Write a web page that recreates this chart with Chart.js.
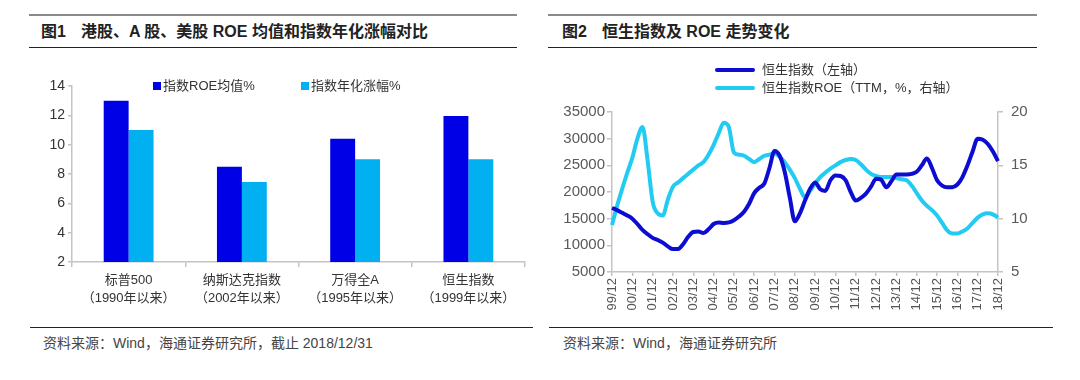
<!DOCTYPE html>
<html>
<head>
<meta charset="utf-8">
<script src="https://cdn.jsdelivr.net/npm/chart.js@4/dist/chart.umd.min.js"></script>
<style>
  html, body { margin:0; padding:0; background:#fff; }
  body { width:1080px; height:380px; position:relative; overflow:hidden;
         font-family:'Liberation Sans', Arial, 'Noto Sans CJK SC', sans-serif; }
  .abs { position:absolute; }
  .rule-top { height:2px; background:#8a8a8a; }
  .rule { height:1px; background:#222; }
  .title { font-size:16px; font-weight:bold; color:#222; white-space:nowrap; line-height:20px; }
  .title .num { margin-right:15px; }
  .foot { font-size:14px; color:#444; white-space:nowrap; line-height:18px; }
  .leg { font-size:13px; color:#333; white-space:nowrap; line-height:16px; }
  canvas { position:absolute; }
</style>
</head>
<body>
<!-- left panel frame -->
<div class="abs rule-top" style="left:29px; top:14px; width:488px;"></div>
<div class="abs title" style="left:41px; top:22px;"><span class="num">图1</span>港股、A 股、美股 ROE 均值和指数年化涨幅对比</div>
<div class="abs rule" style="left:29px; top:47px; width:488px;"></div>
<div class="abs rule" style="left:30px; top:327px; width:503px;"></div>
<div class="abs foot" style="left:43px; top:334px;">资料来源：Wind，海通证券研究所，截止 2018/12/31</div>

<!-- right panel frame -->
<div class="abs rule-top" style="left:548px; top:14px; width:489px;"></div>
<div class="abs title" style="left:562px; top:22px;"><span class="num">图2</span>恒生指数及 ROE 走势变化</div>
<div class="abs rule" style="left:548px; top:47px; width:489px;"></div>
<div class="abs rule" style="left:549px; top:327px; width:504px;"></div>
<div class="abs foot" style="left:563px; top:334px;">资料来源：Wind，海通证券研究所</div>

<canvas id="c1" width="515" height="260" style="left:20px; top:60px; width:515px; height:260px;"></canvas>
<canvas id="c2" width="495" height="225" style="left:545px; top:95px; width:495px; height:225px;"></canvas>

<!-- legends -->
<div id="leg1a-sw" class="abs" style="left:153px; top:82px; width:8px; height:8px;"></div>
<div id="leg1a" class="abs leg" style="left:163px; top:78px;"></div>
<div id="leg1b-sw" class="abs" style="left:301px; top:82px; width:8px; height:8px;"></div>
<div id="leg1b" class="abs leg" style="left:311px; top:78px;"></div>

<div id="leg2a-sw" class="abs" style="left:715px; top:68px; width:40px; height:4px; border-radius:2px;"></div>
<div id="leg2a" class="abs leg" style="left:762px; top:62px;"></div>
<div id="leg2b-sw" class="abs" style="left:715px; top:86px; width:40px; height:4px; border-radius:2px;"></div>
<div id="leg2b" class="abs leg" style="left:762px; top:80px;"></div>

<script>
// ---------- Figure 1 data ----------
const barCategories = [
  ['标普500', '（1990年以来）'],
  ['纳斯达克指数', '（2002年以来）'],
  ['万得全A', '（1995年以来）'],
  ['恒生指数', '（1999年以来）']
];
const barSeriesNames = ['指数ROE均值%', '指数年化涨幅%'];
const roeMean = [13.0, 8.5, 10.4, 11.95];
const annualGain = [11.0, 7.45, 9.0, 9.0];
const barAxisTicks = [2, 4, 6, 8, 10, 12, 14];

// ---------- Figure 2 data ----------
const lineSeriesNames = ['恒生指数（左轴）', '恒生指数ROE（TTM，%，右轴）'];
const lineDates = [
  '99/12',
  '00/03','00/06','00/09','00/12',
  '01/03','01/06','01/09','01/12',
  '02/03','02/06','02/09','02/12',
  '03/03','03/06','03/09','03/12',
  '04/03','04/06','04/09','04/12',
  '05/03','05/06','05/09','05/12',
  '06/03','06/06','06/09','06/12',
  '07/03','07/06','07/09','07/12',
  '08/03','08/06','08/09','08/12',
  '09/03','09/06','09/09','09/12',
  '10/03','10/06','10/09','10/12',
  '11/03','11/06','11/09','11/12',
  '12/03','12/06','12/09','12/12',
  '13/03','13/06','13/09','13/12',
  '14/03','14/06','14/09','14/12',
  '15/03','15/06','15/09','15/12',
  '16/03','16/06','16/09','16/12',
  '17/03','17/06','17/09','17/12',
  '18/03','18/06','18/09','18/12'
];
const hsiIndex = [
  17000,
  16600, 16100, 15600, 15000,
  14000, 12900, 12100, 11400,
  11000, 10500, 9800, 9300,
  9300, 10200, 11600, 12500,
  12600, 12300, 13000, 14000,
  14300, 14200, 14300, 14700,
  15400, 16300, 17800, 19800,
  20800, 21600, 24500, 27700,
  26800, 23800, 19000, 14500,
  16000, 18400, 20600, 21800,
  20500, 20200, 22200, 23100,
  23000, 22200, 20000, 18400,
  18900, 19700, 21000, 22500,
  22300, 20900, 22000, 23300,
  23300, 23300, 23400, 23800,
  25000, 26300, 24500, 22200,
  21200, 20900, 20900, 21400,
  22800, 25000, 27600, 30000,
  29800, 29000, 27600, 25800
];
const hsiRoe = [
  9.4,
  11.2, 12.8, 14.3, 15.7,
  17.5, 18.6, 15.5, 11.6,
  10.5, 10.3, 11.8, 13.0,
  13.4, 13.8, 14.2, 14.6,
  15.0, 15.3, 16.0, 16.9,
  18.0, 19.0, 18.6, 16.2,
  16.0, 15.9, 15.6, 15.3,
  15.6, 15.9, 16.0, 16.1,
  15.8, 15.3, 14.6, 13.8,
  12.8, 12.0, 12.6, 13.3,
  13.9, 14.3, 14.7, 15.0,
  15.3, 15.5, 15.6, 15.5,
  15.1, 14.6, 14.2, 14.0,
  13.9, 13.9, 13.9, 13.8,
  13.7, 13.6, 13.1, 12.4,
  11.7, 11.2, 10.8, 10.3,
  9.6, 8.9, 8.6, 8.6,
  8.8, 9.1, 9.6, 10.1,
  10.4, 10.5, 10.4, 10.1
];
const hsiLeftTicks = [5000, 10000, 15000, 20000, 25000, 30000, 35000];
const hsiRightTicks = [5, 10, 15, 20];

// ---------- styles ----------
const DARK_BAR = '#0000E6';
const LIGHT_BAR = '#00B0F0';
const DARK_LINE = '#0C0CD2';
const LIGHT_LINE = '#22CBF2';
const AXIS = '#c4c4c4';
const FONT = "'Liberation Sans', Arial, 'Noto Sans CJK SC', sans-serif";

// legends (real text)
document.getElementById('leg1a').textContent = barSeriesNames[0];
document.getElementById('leg1b').textContent = barSeriesNames[1];
document.getElementById('leg1a-sw').style.background = DARK_BAR;
document.getElementById('leg1b-sw').style.background = LIGHT_BAR;
document.getElementById('leg2a').textContent = lineSeriesNames[0];
document.getElementById('leg2b').textContent = lineSeriesNames[1];
document.getElementById('leg2a-sw').style.background = DARK_LINE;
document.getElementById('leg2b-sw').style.background = LIGHT_LINE;

const plain = v => String(v);

// ---------- Figure 1 ----------
new Chart(document.getElementById('c1'), {
  type: 'bar',
  data: {
    labels: barCategories,
    datasets: [
      { label: barSeriesNames[0], data: roeMean, backgroundColor: DARK_BAR,
        categoryPercentage: 0.44, barPercentage: 1.0 },
      { label: barSeriesNames[1], data: annualGain, backgroundColor: LIGHT_BAR,
        categoryPercentage: 0.44, barPercentage: 1.0 }
    ]
  },
  options: {
    responsive: false, animation: false, devicePixelRatio: 1,
    layout: { padding: { top: 26, right: 10, left: 0, bottom: 0 } },
    plugins: { legend: { display: false }, tooltip: { enabled: false } },
    scales: {
      x: {
        grid: { display: true, drawOnChartArea: false, tickLength: 5, color: AXIS, lineWidth: 1.5, offset: true },
        border: { color: AXIS, width: 1.5 },
        ticks: { color: '#333', font: { size: 13, family: FONT, lineHeight: 1.4 }, padding: 4,
                 autoSkip: false, maxRotation: 0, minRotation: 0 },
        afterFit(s) { s.height = 58; }
      },
      y: {
        min: 2, max: 14,
        grid: { display: true, drawOnChartArea: false, tickLength: 4, color: AXIS, lineWidth: 1.5 },
        border: { color: AXIS, width: 1.5 },
        ticks: { color: '#333', font: { size: 14, family: FONT }, padding: 3, callback: plain },
        afterBuildTicks(s) { s.ticks = barAxisTicks.map(v => ({ value: v })); },
        afterFit(s) { s.width = 52; }
      }
    }
  }
});

// ---------- Figure 2 ----------
new Chart(document.getElementById('c2'), {
  type: 'line',
  data: {
    labels: lineDates,
    datasets: [
      { label: lineSeriesNames[0], data: hsiIndex, yAxisID: 'y', borderColor: DARK_LINE,
        borderWidth: 4, pointRadius: 0, cubicInterpolationMode: 'monotone', order: 0 },
      { label: lineSeriesNames[1], data: hsiRoe, yAxisID: 'y1', borderColor: LIGHT_LINE,
        borderWidth: 4, pointRadius: 0, cubicInterpolationMode: 'monotone', order: 1 }
    ]
  },
  options: {
    responsive: false, animation: false, devicePixelRatio: 1,
    layout: { padding: { top: 13, right: 0, left: 0, bottom: 0 } },
    plugins: { legend: { display: false }, tooltip: { enabled: false } },
    scales: {
      x: {
        grid: { display: true, drawOnChartArea: false, tickLength: 4, color: AXIS, lineWidth: 1.5 },
        border: { color: AXIS, width: 1.5 },
        ticks: {
          color: '#555', font: { size: 13, family: FONT }, padding: 2,
          autoSkip: false, maxRotation: 90, minRotation: 90,
          callback(v, i) { const l = lineDates[i]; return l.endsWith('/12') ? l : null; }
        },
        afterFit(s) { s.height = 48; }
      },
      y: {
        position: 'left', min: 5000, max: 35000,
        grid: { display: true, drawOnChartArea: false, tickLength: 5, color: AXIS, lineWidth: 1.5 },
        border: { color: AXIS, width: 1.5 },
        ticks: { color: '#595959', font: { size: 15, family: FONT }, padding: 2, callback: plain },
        afterBuildTicks(s) { s.ticks = hsiLeftTicks.map(v => ({ value: v })); },
        afterFit(s) { s.width = 67; }
      },
      y1: {
        position: 'right', min: 5, max: 20,
        grid: { display: true, drawOnChartArea: false, tickLength: 5, color: AXIS, lineWidth: 1.5 },
        border: { color: AXIS, width: 1.5 },
        ticks: { color: '#595959', font: { size: 15, family: FONT }, padding: 8, callback: plain },
        afterBuildTicks(s) { s.ticks = hsiRightTicks.map(v => ({ value: v })); },
        afterFit(s) { s.width = 42; }
      }
    }
  }
});
</script>
</body>
</html>
